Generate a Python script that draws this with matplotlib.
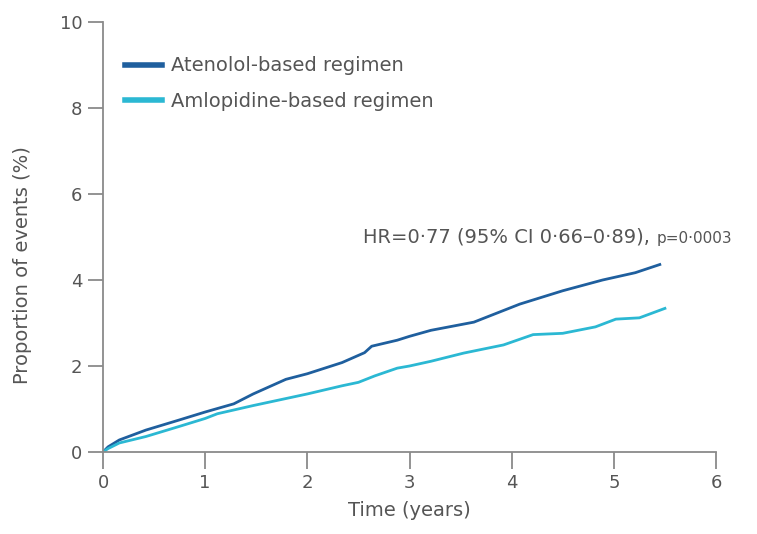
import matplotlib
matplotlib.use("Agg")
import matplotlib.pyplot as plt

# Data
years_atenolol = [0, 0.05, 0.16, 0.42, 0.74, 1.0, 1.28, 1.47, 1.79, 2.0, 2.34, 2.56, 2.63,
                  2.88, 3.0, 3.21, 3.63, 4.08, 4.5, 4.89, 5.21, 5.45]
events_atenolol = [0, 0.12, 0.28, 0.51, 0.74, 0.93, 1.12, 1.35, 1.69, 1.82, 2.08, 2.31, 2.46,
                   2.60, 2.69, 2.83, 3.02, 3.44, 3.75, 4.00, 4.17, 4.36]
years_amlodipine = [0, 0.05, 0.16, 0.42, 0.74, 1.0, 1.12, 1.47, 2.0, 2.34, 2.5, 2.66, 2.88,
                    3.0, 3.21, 3.53, 3.92, 4.21, 4.5, 4.82, 5.02, 5.25, 5.5]
events_amlodipine = [0, 0.08, 0.21, 0.36, 0.59, 0.78, 0.89, 1.08, 1.35, 1.54, 1.62, 1.77, 1.95,
                     2.0, 2.11, 2.30, 2.49, 2.73, 2.76, 2.91, 3.09, 3.12, 3.34]
series_labels = ["Atenolol-based regimen", "Amlopidine-based regimen"]
x_ticks = [0, 1, 2, 3, 4, 5, 6]
y_ticks = [0, 2, 4, 6, 8, 10]
annotation_main = "HR=0·77 (95% CI 0·66–0·89), "
annotation_p = "p=0·0003"

plt.rcParams['font.family'] = ['DejaVu Sans']
text_color = "#555555"
axis_color = "#8a8a8a"
c_aten = "#1f5f9e"
c_amlo = "#2bb8d3"

W, H = 757, 534
fig = plt.figure(figsize=(W / 100, H / 100), dpi=100)
ax = fig.add_axes([103 / W, 1 - 452 / H, (716 - 103) / W, (452 - 22) / H])

ax.plot(years_atenolol, events_atenolol, color=c_aten, lw=2.0, label=series_labels[0])
ax.plot(years_amlodipine, events_amlodipine, color=c_amlo, lw=2.0, label=series_labels[1])

ax.set_xlim(0, 6)
ax.set_ylim(0, 10)
ax.set_xticks(x_ticks)
ax.set_yticks(y_ticks)
for s in ["top", "right"]:
    ax.spines[s].set_visible(False)
for s in ["left", "bottom"]:
    ax.spines[s].set_color(axis_color)
    ax.spines[s].set_linewidth(1.3)
ax.tick_params(axis='x', direction='out', length=12, width=1.3, color=axis_color,
               labelcolor=text_color, labelsize=13, pad=4)
ax.tick_params(axis='y', direction='out', length=11, width=1.3, color=axis_color,
               labelcolor=text_color, labelsize=13, pad=4)
ax.set_xlabel("Time (years)", color=text_color, fontsize=14, labelpad=6)
ax.set_ylabel("Proportion of events (%)", color=text_color, fontsize=14)
ax.yaxis.set_label_coords(-71 / 613, 0.435)

leg = ax.legend(loc='upper left', bbox_to_anchor=(0.036, 0.92), frameon=False,
                fontsize=14, handlelength=1.9, handletextpad=0.45, labelspacing=0.85,
                borderaxespad=0.0, borderpad=0.0)
for t in leg.get_texts():
    t.set_color(text_color)
for l in leg.get_lines():
    l.set_linewidth(4)

t1 = ax.text(363 / W, 1 - 237 / H, annotation_main, transform=fig.transFigure,
             color=text_color, fontsize=14, va='center', ha='left')
fig.canvas.draw()
bb = t1.get_window_extent(fig.canvas.get_renderer())
ax.text((bb.x1 + 1) / W, 1 - 238 / H, annotation_p, transform=fig.transFigure,
        color=text_color, fontsize=11, va='center', ha='left')

fig.savefig("out.png", dpi=100, facecolor="white")
